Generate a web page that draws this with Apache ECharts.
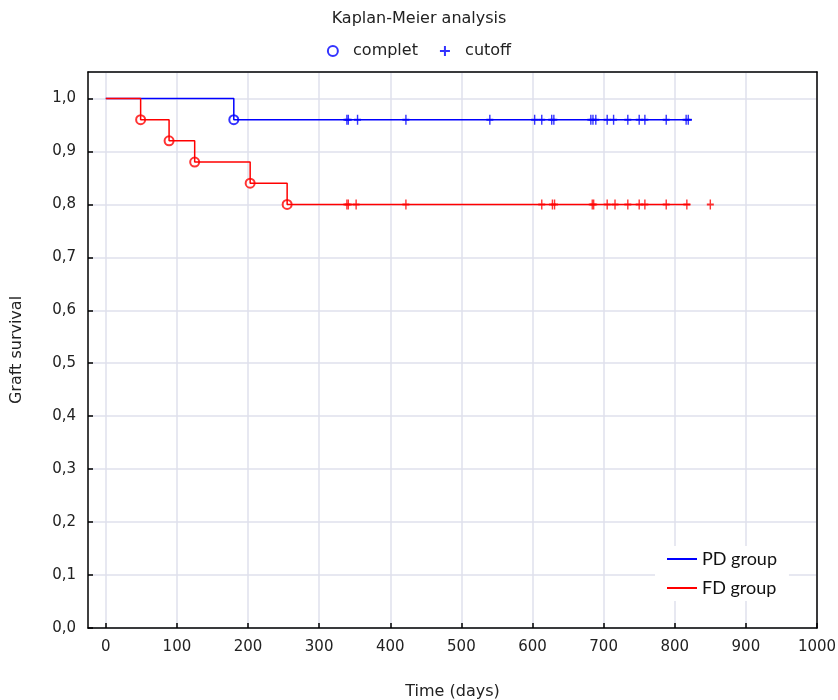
<!DOCTYPE html>
<html>
<head>
<meta charset="utf-8">
<script src="https://cdn.jsdelivr.net/npm/echarts@6/dist/echarts.min.js"></script>
<style>
html, body { margin: 0; padding: 0; background: #fff; }
#main { width: 838px; height: 700px; }
</style>
</head>
<body>
<div id="main"></div>
<script>
// values: time in days, survival as fraction
var xTicks = [0, 100, 200, 300, 400, 500, 600, 700, 800, 900, 1000];

// PD group
var pdEventDays = [180];
var pdEventSurv = [0.96];
var pdCensorDays = [339, 341, 354, 422, 540, 603, 613, 627, 630, 682, 685, 689, 705, 714, 734, 750, 758, 788, 816, 819];
var pdLineEnd = 824;

// FD group
var fdEventDays = [49, 89, 125, 203, 255];
var fdEventSurv = [0.96, 0.92, 0.88, 0.84, 0.80];
var fdCensorDays = [339, 341, 352, 422, 613, 628, 631, 684, 686, 705, 716, 734, 750, 758, 788, 817, 850];
var fdLineEnd = 822;

var BLUE = '#0000ff', RED = '#ff0000';
var plusPath = 'path://M4,0h2v10h-2zM0,4h10v2h-10z';

function survAt(t, days, surv) {
    var s = 1;
    for (var i = 0; i < days.length; i++) {
        if (days[i] <= t) s = surv[i];
    }
    return s;
}

function stepData(days, surv, end) {
    var d = [[0, 1]];
    for (var i = 0; i < days.length; i++) d.push([days[i], surv[i]]);
    d.push([end, surv[surv.length - 1]]);
    return d;
}

var completData = [];
pdEventDays.forEach(function (t, i) { completData.push([t, pdEventSurv[i]]) });
fdEventDays.forEach(function (t, i) {
    completData.push({ value: [t, fdEventSurv[i]], itemStyle: { color: RED, borderColor: RED } });
});

var cutoffData = [];
pdCensorDays.forEach(function (t) { cutoffData.push([t, survAt(t, pdEventDays, pdEventSurv)]) });
fdCensorDays.forEach(function (t) {
    cutoffData.push({ value: [t, survAt(t, fdEventDays, fdEventSurv)], itemStyle: { color: RED } });
});

var font = 'DejaVu Sans';
var txt = '#222';
var blackLine = { lineStyle: { color: '#000', width: 1.5 } };
var myChart = echarts.init(document.getElementById('main'));

var option = {
    animation: false,
    title: {
        text: 'Kaplan-Meier analysis',
        left: 'center',
        top: 6,
        textStyle: { fontFamily: font, fontSize: 16, fontWeight: 'normal', color: txt }
    },
    legend: [
        {
            data: [{ name: 'complet', icon: 'emptyCircle' }, { name: 'cutoff', icon: plusPath }],
            top: 38,
            left: 'center',
            itemWidth: 10,
            itemHeight: 10,
            itemGap: 22,
            formatter: '  {name}',
            textStyle: { fontFamily: font, fontSize: 16, color: txt }
        },
        {
            data: ['PD group', 'FD group'],
            orient: 'vertical',
            left: 655,
            top: 546,
            padding: [4, 12, 4, 12],
            backgroundColor: '#fff',
            icon: 'rect',
            itemWidth: 30,
            itemHeight: 2,
            itemGap: 11,
            textStyle: { fontFamily: 'Lato', fontSize: 18, color: '#111', lineHeight: 18 }
        }
    ],
    grid: {
        left: 88,
        right: 21,
        top: 72,
        bottom: 72,
        outerBoundsMode: 'none'
    },
    xAxis: [
        {
            type: 'value',
            min: -25,
            max: 1000,
            name: 'Time (days)',
            nameLocation: 'middle',
            nameGap: 56,
            nameTextStyle: { fontFamily: font, fontSize: 16, color: txt },
            axisLine: { onZero: false, lineStyle: { color: '#000', width: 1.5 } },
            axisTick: { customValues: xTicks, inside: true, length: 5, lineStyle: { color: '#000', width: 1.5 } },
            axisLabel: {
                customValues: xTicks, fontFamily: font, fontSize: 15, color: txt, margin: 12,
                formatter: function (v) { return String(v) }
            },
            splitLine: { lineStyle: { color: '#dfe1ec', width: 1.5 } }
        },
        {
            // top frame line
            type: 'value', position: 'top', min: -25, max: 1000, z: 5,
            axisLine: { onZero: false, lineStyle: blackLine.lineStyle },
            axisTick: { show: false }, axisLabel: { show: false }, splitLine: { show: false }
        }
    ],
    yAxis: [
        {
            type: 'value',
            min: 0,
            max: 1.05,
            interval: 0.1,
            name: 'Graft survival',
            nameLocation: 'middle',
            nameGap: 63,
            nameTextStyle: { fontFamily: font, fontSize: 16, color: txt },
            axisLine: { show: true, onZero: false, lineStyle: { color: '#000', width: 1.5 } },
            axisTick: { inside: true, length: 5, lineStyle: { color: '#000', width: 1.5 } },
            axisLabel: {
                showMaxLabel: false,
                fontFamily: font,
                fontSize: 15,
                color: txt,
                margin: 12,
                formatter: function (v) { return v.toFixed(1).replace('.', ',') }
            },
            splitLine: { lineStyle: { color: '#dfe1ec', width: 1.5 } }
        },
        {
            // right frame line
            type: 'value', position: 'right', min: 0, max: 1.05, z: 5,
            axisLine: { show: true, onZero: false, lineStyle: blackLine.lineStyle },
            axisTick: { show: false }, axisLabel: { show: false }, splitLine: { show: false }
        }
    ],
    series: [
        {
            name: 'PD group',
            type: 'line',
            step: 'end',
            symbol: 'none',
            color: BLUE,
            lineStyle: { color: BLUE, width: 1.5 },
            data: stepData(pdEventDays, pdEventSurv, pdLineEnd)
        },
        {
            name: 'FD group',
            type: 'line',
            step: 'end',
            symbol: 'none',
            color: RED,
            lineStyle: { color: RED, width: 1.5 },
            data: stepData(fdEventDays, fdEventSurv, fdLineEnd)
        },
        {
            name: 'complet',
            type: 'scatter',
            symbol: 'emptyCircle',
            symbolSize: 9,
            itemStyle: { color: BLUE, borderColor: BLUE, borderWidth: 1.5 },
            data: completData
        },
        {
            name: 'cutoff',
            type: 'scatter',
            symbol: plusPath,
            symbolSize: [7, 10],
            itemStyle: { color: BLUE },
            data: cutoffData
        }
    ]
};

myChart.setOption(option);
</script>
</body>
</html>
